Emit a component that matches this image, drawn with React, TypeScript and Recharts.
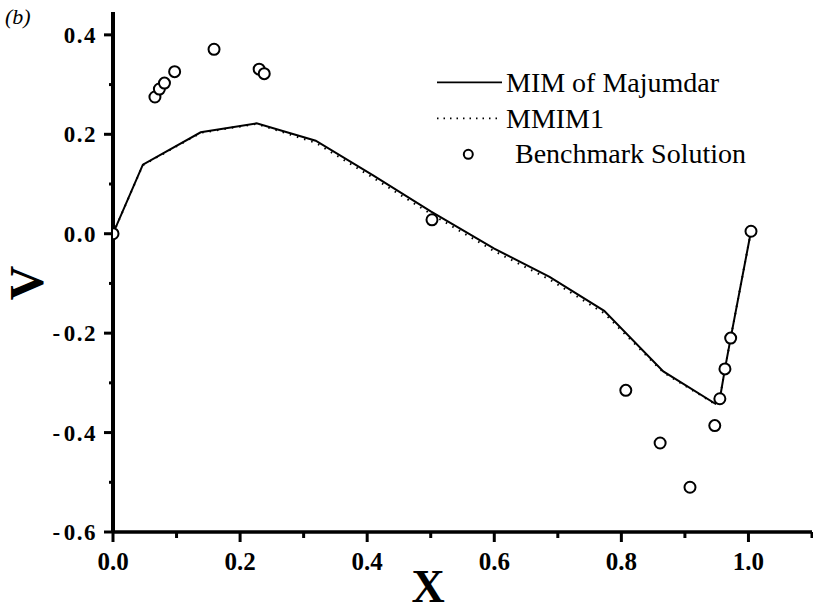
import React from 'react';
import { ComposedChart, Line, Scatter, XAxis, YAxis, Legend } from 'recharts';

// MIM of Majumdar (solid line)
const mimX = [0, 0.047, 0.138, 0.226, 0.319, 0.41, 0.5, 0.6, 0.687, 0.773, 0.866, 0.948, 0.955, 0.963, 0.972, 1.004];
const mimY = [0, 0.139, 0.204, 0.222, 0.187, 0.117, 0.045, -0.03, -0.087, -0.155, -0.277, -0.342, -0.332, -0.272, -0.21, 0.005];
// MMIM1 (dotted line)
const mmimX = [0, 0.047, 0.138, 0.226, 0.319, 0.41, 0.5, 0.6, 0.687, 0.773, 0.866, 0.948, 0.955, 0.963, 0.972, 1.004];
const mmimY = [0, 0.138, 0.203, 0.221, 0.183, 0.112, 0.04, -0.035, -0.092, -0.16, -0.279, -0.343, -0.332, -0.272, -0.21, 0.005];
// Benchmark Solution (circles)
const benchX = [0, 0.066, 0.073, 0.081, 0.097, 0.159, 0.23, 0.238, 0.502, 0.807, 0.861, 0.908, 0.947, 0.955, 0.963, 0.972, 1.004];
const benchY = [0, 0.275, 0.291, 0.303, 0.326, 0.371, 0.331, 0.322, 0.028, -0.315, -0.421, -0.51, -0.386, -0.332, -0.272, -0.21, 0.005];

const xTicks = [0, 0.1, 0.2, 0.3, 0.4, 0.5, 0.6, 0.7, 0.8, 0.9, 1.0, 1.1];
const yTicks = [-0.6, -0.5, -0.4, -0.3, -0.2, -0.1, 0, 0.1, 0.2, 0.3, 0.4];
const xLabeled = ['0.0', '0.2', '0.4', '0.6', '0.8', '1.0'];
const yLabeled = ['-0.6', '-0.4', '-0.2', '0.0', '0.2', '0.4'];

const mimData = mimX.map((x, i) => ({ x, y: mimY[i] }));
const mmimData = mmimX.map((x, i) => ({ x, y: mmimY[i] }));
const benchData = benchX.map((x, i) => ({ x, y: benchY[i] }));

const FONT = '"Liberation Serif", "Times New Roman", serif';

const XTick = (props: any) => {
  const { x, y, payload } = props;
  const label = Number(payload.value).toFixed(1);
  const major = xLabeled.includes(label);
  return (
    <g>
      <line x1={x} y1={y} x2={x} y2={y + (major ? 10 : 6)} stroke="#000" strokeWidth={3} />
      {major && (
        <text x={x} y={y + 38} textAnchor="middle" style={{ fontFamily: FONT, fontWeight: 'bold', fontSize: 25 }} fill="#000">
          {label}
        </text>
      )}
    </g>
  );
};

const YTick = (props: any) => {
  const { x, y, payload } = props;
  const v = Number(payload.value);
  const label = v.toFixed(1);
  const major = yLabeled.includes(label);
  const neg = v < -0.0001;
  return (
    <g>
      <line x1={x - (major ? 9 : 4)} y1={y} x2={x} y2={y} stroke="#000" strokeWidth={3} />
      {major && (
        <text x={x - 16} y={y + 8} textAnchor="end" style={{ fontFamily: FONT, fontWeight: 'bold', fontSize: 23, letterSpacing: '1.5px' }} fill="#000">
          {neg ? (
            <>
              <tspan>-</tspan>
              <tspan dx={2}>{label.slice(1)}</tspan>
            </>
          ) : (
            label
          )}
        </text>
      )}
    </g>
  );
};

const renderLegend = () => (
  <svg width={330} height={120} style={{ display: 'block' }}>
    <line x1={7} y1={22.3} x2={72} y2={22.3} stroke="#000" strokeWidth={1.8} />
    <text x={76} y={31.7} style={{ fontFamily: FONT, fontSize: 28 }} fill="#000">MIM of Majumdar</text>
    <line x1={7} y1={58.3} x2={70} y2={58.3} stroke="#000" strokeWidth={1.8} strokeDasharray="1.5 5" />
    <text x={76} y={68.3} style={{ fontFamily: FONT, fontSize: 28 }} fill="#000">MMIM1</text>
    <circle cx={38.3} cy={94.3} r={4.5} stroke="#000" strokeWidth={2} fill="#fff" />
    <text x={85} y={103.3} style={{ fontFamily: FONT, fontSize: 28 }} fill="#000">Benchmark Solution</text>
  </svg>
);

const circleShape = (p: any) => (
  <circle cx={p.cx} cy={p.cy} r={5.5} stroke="#000" strokeWidth={2} fill="#fff" />
);

export default function App() {
  return (
    <div style={{ position: 'absolute', left: 0, top: 0, width: 813, height: 613, background: '#fff' }}>
      <ComposedChart width={813} height={613} margin={{ top: 12, right: 1, bottom: 0, left: 0 }}>
        <XAxis
          type="number"
          dataKey="x"
          domain={[0, 1.1]}
          ticks={xTicks}
          interval={0}
          tickSize={0}
          tickMargin={0}
          height={81}
          axisLine={{ stroke: '#000', strokeWidth: 3.5 }}
          tickLine={false}
          tick={<XTick />}
          allowDataOverflow
          label={{
            content: () => (
              <text x={428} y={602} textAnchor="middle" style={{ fontFamily: FONT, fontWeight: 'bold', fontSize: 46 }} fill="#000">X</text>
            ),
          }}
        />
        <YAxis
          type="number"
          dataKey="y"
          domain={[-0.6, 0.446]}
          ticks={yTicks}
          interval={0}
          tickSize={0}
          tickMargin={0}
          width={113}
          axisLine={{ stroke: '#000', strokeWidth: 4 }}
          tickLine={false}
          tick={<YTick />}
          allowDataOverflow
          label={{
            content: () => (
              <g>
                <text x={43} y={283} transform="rotate(-90 43 283)" textAnchor="middle" style={{ fontFamily: FONT, fontWeight: 'bold', fontSize: 48 }} fill="#000">V</text>
                <text x={5} y={24} style={{ fontFamily: FONT, fontStyle: 'italic', fontSize: 22 }} fill="#000">(b)</text>
              </g>
            ),
          }}
        />
        <Legend
          layout="horizontal"
          verticalAlign="middle"
          align="center"
          content={renderLegend}
          wrapperStyle={{ left: 430, top: 60, width: 330, height: 120 }}
        />
        <Line data={mmimData} dataKey="y" type="linear" stroke="#000" strokeWidth={2} strokeDasharray="1.5 6" dot={false} isAnimationActive={false} name="MMIM1" />
        <Line data={mimData} dataKey="y" type="linear" stroke="#000" strokeWidth={2} dot={false} isAnimationActive={false} name="MIM of Majumdar" />
        <Scatter data={benchData} dataKey="y" shape={circleShape} isAnimationActive={false} name="Benchmark Solution" />
      </ComposedChart>
    </div>
  );
}
